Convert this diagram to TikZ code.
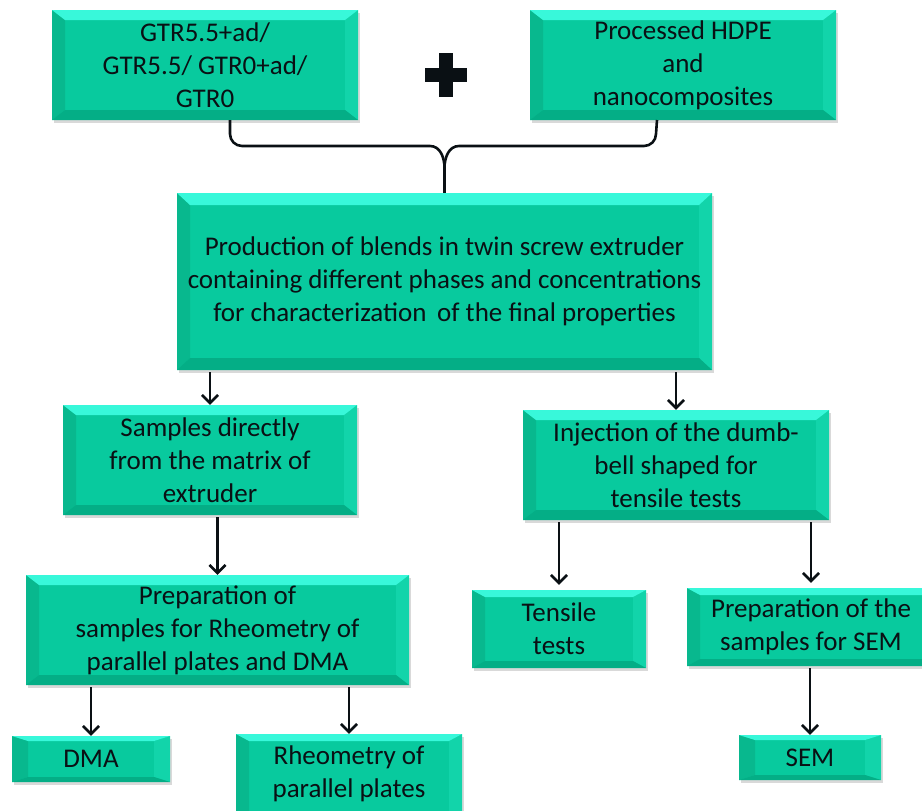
\documentclass[tikz,border=0pt]{standalone}
\usepackage{fontspec}
\setmainfont{Carlito}
\usetikzlibrary{shadows,arrows.meta}
\definecolor{boxmain}{RGB}{8,202,158}
\definecolor{boxtop}{RGB}{56,248,218}
\definecolor{boxleft}{RGB}{8,184,142}
\definecolor{boxright}{RGB}{18,212,170}
\definecolor{boxbottom}{RGB}{4,174,134}
\definecolor{ink}{RGB}{10,16,20}
\tikzset{
  bevx/.store in=\bevx, bevx=13pt,
  bevy/.store in=\bevy, bevy=10pt,
  boxtext/.style={inner sep=0pt, align=center, text=ink, font=\fontsize{27}{33}\selectfont},
  bevelbox/.style={rectangle, boxtext, fill=boxmain,
    drop shadow={opacity=0.3, shadow xshift=1.5pt, shadow yshift=-2.5pt},
    path picture={
      \coordinate (pnw) at (path picture bounding box.north west);
      \coordinate (pne) at (path picture bounding box.north east);
      \coordinate (psw) at (path picture bounding box.south west);
      \coordinate (pse) at (path picture bounding box.south east);
      \fill[boxleft] (pnw) -- (psw) -- ([xshift=\bevx,yshift=\bevy]psw) -- ([xshift=\bevx,yshift=-\bevy]pnw) -- cycle;
      \fill[boxright] (pne) -- (pse) -- ([xshift=-\bevx,yshift=\bevy]pse) -- ([xshift=-\bevx,yshift=-\bevy]pne) -- cycle;
      \fill[boxtop] (pnw) -- (pne) -- ([xshift=-\bevx,yshift=-\bevy]pne) -- ([xshift=\bevx,yshift=-\bevy]pnw) -- cycle;
      \fill[boxbottom] (psw) -- (pse) -- ([xshift=-\bevx,yshift=\bevy]pse) -- ([xshift=\bevx,yshift=\bevy]psw) -- cycle;
    }},
  smallbevel/.style={bevx=16pt, bevy=5pt},
  arr/.style={draw=ink, line width=2.6pt, -{Straight Barb[length=8pt,width=16pt]}},
  bracestyle/.style={draw=ink, line width=2.6pt, line join=round},
}
\begin{document}
\begin{tikzpicture}[x=1pt,y=-1pt]
\useasboundingbox (0,0) rectangle (922,811);
% boxes
\node[bevelbox, minimum width=306, minimum height=110] (A) at (205,65) {GTR5.5+ad/\\GTR5.5/ GTR0+ad/\\GTR0};
\node[bevelbox, minimum width=306, minimum height=110] (B) at (683,65) {Processed HDPE\\and\\nanocomposites};
\node[bevelbox, bevy=12pt, minimum width=535, minimum height=177] (C) at (444.5,281.5) {Production of blends in twin screw extruder\\containing different phases and concentrations\\for characterization\, of the final properties};
\node[bevelbox, minimum width=294, minimum height=110] (D) at (210,460) {Samples directly\\from the matrix of\\extruder};
\node[bevelbox, minimum width=306, minimum height=110] (E) at (676,465) {Injection of the dumb-\\bell shaped for\\tensile tests};
\node[bevelbox, minimum width=383, minimum height=110] (F) at (217.5,630) {Preparation of\\samples for Rheometry of\\parallel plates and DMA};
\node[bevelbox, smallbevel, minimum width=158, minimum height=46] (G) at (91,759) {DMA};
\node[bevelbox, bevy=7pt, minimum width=226, minimum height=130] (H) at (349,799) {};
\node[boxtext] (Htext) at (349,773.5) {Rheometry of\\parallel plates};
\node[bevelbox, bevy=7pt, minimum width=174, minimum height=78] (I) at (559,629) {Tensile\\tests};
\node[bevelbox, bevy=7pt, minimum width=248, minimum height=78] (J) at (811,627) {Preparation of the\\samples for SEM};
\node[bevelbox, smallbevel, minimum width=142, minimum height=45] (K) at (810,757.5) {SEM};
% plus sign
\fill[ink] (439,53) rectangle (453,97);
\fill[ink] (425,68) rectangle (467,82);
% brace
\coordinate (bl) at (230,120);
\coordinate (br) at (657,120);
\coordinate (bj) at (444.5,168);
\draw[bracestyle] (bl) -- ++(0,14) to[out=-90,in=180] ++(12,12) -- (430,146) to[out=0,in=90] (bj) -- (C.north);
\draw[bracestyle] (br) -- ++(-1,14) to[out=-90,in=0] ++(-12,12) -- (459,146) to[out=180,in=90] (bj);
% arrows
\draw[arr] ([yshift=-2pt]C.south -| D.north) -- (D.north);
\draw[arr] ([yshift=-2pt]C.south -| E.north) -- (E.north);
\draw[arr] ([yshift=-2pt]D.south -| F.north) -- (F.north);
\draw[arr] ([yshift=-2pt]F.south -| G.north) -- (G.north);
\draw[arr] ([yshift=-2pt]F.south -| H.north) -- (H.north);
\draw[arr] ([yshift=-2pt]E.south -| I.north) -- ([yshift=5pt]I.north);
\draw[arr] ([yshift=-2pt]E.south -| J.north) -- ([yshift=5pt]J.north);
\draw[arr] ([yshift=-2pt]J.south -| K.north) -- (K.north);
\end{tikzpicture}
\end{document}
